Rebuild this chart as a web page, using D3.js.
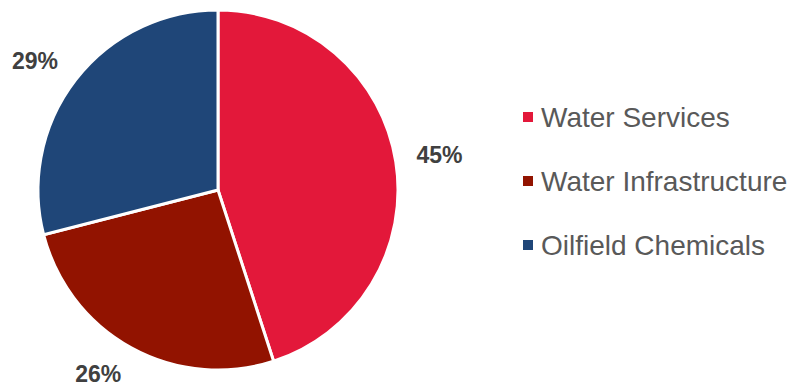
<!DOCTYPE html>
<html>
<head>
<meta charset="utf-8">
<script src="https://cdn.jsdelivr.net/npm/d3@7"></script>
<style>
  html, body { margin: 0; padding: 0; background: #ffffff; }
  svg { display: block; font-family: "Liberation Sans", Arial, sans-serif; }
</style>
</head>
<body>
<svg id="chart" width="790" height="384"></svg>
<script>
// Revenue share by segment
const segments = ["Water Services", "Water Infrastructure", "Oilfield Chemicals"];
const shares = [45, 26, 29];
const colors = ["#E3183A", "#921300", "#1F4678"];

const svg = d3.select("#chart");
const cx = 218, cy = 190, radius = 180;
const labelGap = 20;              // distance from rim to nearest corner of a label box
const labelBand = [52, 383];      // vertical room available to labels (page coords)

const pie = d3.pie().sort(null).value(d => d)(shares);
const arc = d3.arc().innerRadius(0).outerRadius(radius);

const g = svg.append("g").attr("transform", `translate(${cx},${cy})`);

g.selectAll("path.slice")
  .data(pie)
  .join("path")
  .attr("class", "slice")
  .attr("d", arc)
  .attr("fill", (d, i) => colors[i])
  .attr("stroke", "#ffffff")
  .attr("stroke-width", 3);

// Outside-end labels: push the box out along the mid-angle until its nearest
// corner sits labelGap beyond the rim, then keep it inside the vertical band,
// sliding sideways so that corner stays at the same distance.
const labels = g.selectAll("text.pct")
  .data(pie)
  .join("text")
  .attr("class", "pct")
  .attr("text-anchor", "middle")
  .attr("dy", "0.36em")
  .attr("font-size", 23)
  .attr("font-weight", "bold")
  .attr("fill", "#404040")
  .text(d => d.value + "%");

labels.each(function (d) {
  const bb = this.getBBox();
  const hw = bb.width / 2, hh = 9;
  const a = (d.startAngle + d.endAngle) / 2;
  const ux = Math.sin(a), uy = -Math.cos(a);
  const sx = Math.sign(ux) || 1, sy = Math.sign(uy) || 1;
  const target = radius + labelGap;
  const cornerDist = t => Math.hypot(t * ux - sx * hw, t * uy - sy * hh);
  let t = radius;
  while (cornerDist(t) < target) t += 0.25;
  let x = t * ux, y = t * uy;
  const top = labelBand[0] - cy + hh, bottom = labelBand[1] - cy - hh;
  if (y < top || y > bottom) {
    y = Math.max(top, Math.min(bottom, y));
    const ny = y - sy * hh;
    const nx = Math.sqrt(Math.max(0, target * target - ny * ny));
    x = sx * nx + sx * hw;
  }
  d3.select(this).attr("transform", `translate(${x},${y})`);
});

// Legend
const legendY = d3.scalePoint().domain(segments).range([117, 245]);
const items = svg.append("g")
  .selectAll("g.item")
  .data(segments)
  .join("g")
  .attr("class", "item")
  .attr("transform", d => `translate(523,${legendY(d)})`);

items.append("rect")
  .attr("x", 0).attr("y", -5)
  .attr("width", 10).attr("height", 10)
  .attr("fill", (d, i) => colors[i]);

items.append("text")
  .attr("x", 18)
  .attr("y", 10)
  .attr("font-size", 28)
  .attr("fill", "#595959")
  .text(d => d);
</script>
</body>
</html>
